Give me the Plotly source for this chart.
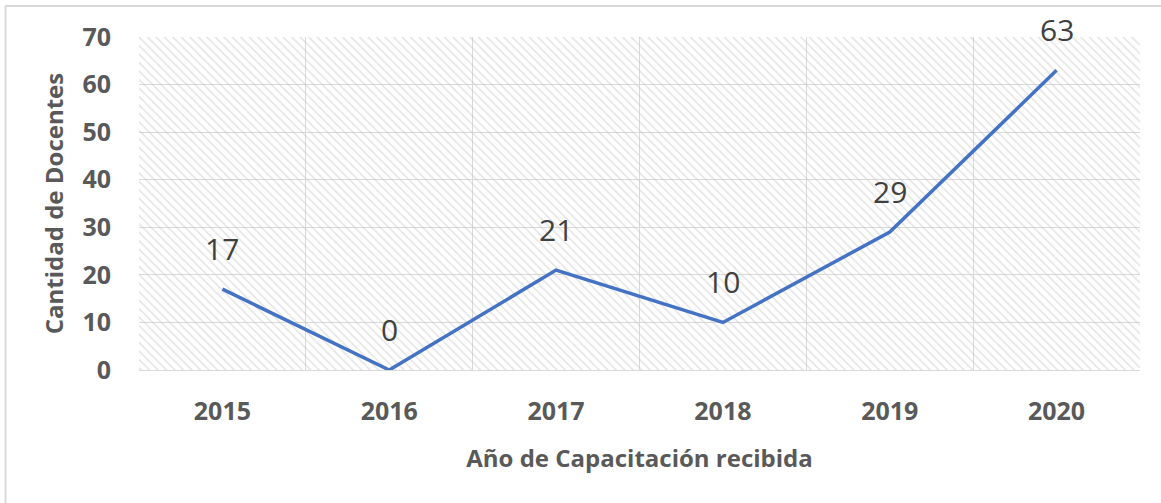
import plotly.graph_objects as go

years = ["2015", "2016", "2017", "2018", "2019", "2020"]
docentes = [17, 0, 21, 10, 29, 63]
y_ticks = [0, 10, 20, 30, 40, 50, 60, 70]

W, H = 1161, 503
ML, MR, MT, MB = 139, 21, 37, 133

xs = list(range(len(years)))
fig = go.Figure()

# hatched plot-area background
fig.add_trace(go.Scatter(
    x=[-0.5, len(years) - 0.5, len(years) - 0.5, -0.5, -0.5],
    y=[0, 0, 70, 70, 0],
    mode="lines", line=dict(width=0), fill="toself",
    fillcolor="rgba(0,0,0,0)",
    fillpattern=dict(shape="\\", size=6, solidity=0.25, fgcolor="#c8c8c8", bgcolor="rgba(0,0,0,0)"),
    hoverinfo="skip", showlegend=False,
))

fig.add_trace(go.Scatter(
    x=xs, y=docentes, mode="lines",
    line=dict(color="#4472C4", width=3.5),
    showlegend=False,
))

for xi, v in zip(xs, docentes):
    fig.add_annotation(x=xi, y=v, text=str(v), showarrow=False, yshift=41,
                       font=dict(family="Open Sans", size=30, color="#404040"))

fig.update_layout(
    width=W, height=H,
    margin=dict(l=ML, r=MR, t=MT, b=MB),
    plot_bgcolor="white", paper_bgcolor="white",
    xaxis=dict(
        range=[-0.5, len(years) - 0.5],
        tickmode="array", tickvals=xs, ticktext=years,
        showgrid=False, zeroline=False, showline=False,
        tickfont=dict(family="Open Sans", size=25, color="#595959", weight="bold"),
        ticklabelstandoff=24,
        minor=dict(tickmode="linear", tick0=-0.5, dtick=1, showgrid=True, gridcolor="#d9d9d9", gridwidth=1),
        title=dict(text="Año de Capacitación recibida", standoff=24,
                   font=dict(family="Open Sans", size=24, color="#595959", weight="bold")),
    ),
    yaxis=dict(
        range=[0, 70], tickmode="array", tickvals=y_ticks,
        showgrid=True, gridcolor="#d9d9d9", gridwidth=1,
        zeroline=True, zerolinecolor="#d9d9d9", zerolinewidth=1,
        showline=False,
        tickfont=dict(family="Open Sans", size=25, color="#595959", weight="bold"),
        ticklabelstandoff=27,
        title=dict(text="Cantidad de Docentes", standoff=12,
                   font=dict(family="Open Sans", size=24, color="#595959", weight="bold")),
    ),
)

pw = W - ML - MR
ph = H - MT - MB
def px_x(p):
    return (p - ML) / pw
def px_y(p):
    return 1 - (p - MT) / ph

fig.add_shape(type="line", xref="paper", yref="paper",
              x0=px_x(5.5), x1=px_x(5.5), y0=px_y(6), y1=px_y(H + 5),
              line=dict(color="#d9d9d9", width=2))
fig.add_shape(type="line", xref="paper", yref="paper",
              x0=px_x(5), x1=px_x(W + 5), y0=px_y(6), y1=px_y(6),
              line=dict(color="#d9d9d9", width=2))

fig.write_html("out.html", config={"displayModeBar": False},
               post_script="document.body.style.margin='0';")
